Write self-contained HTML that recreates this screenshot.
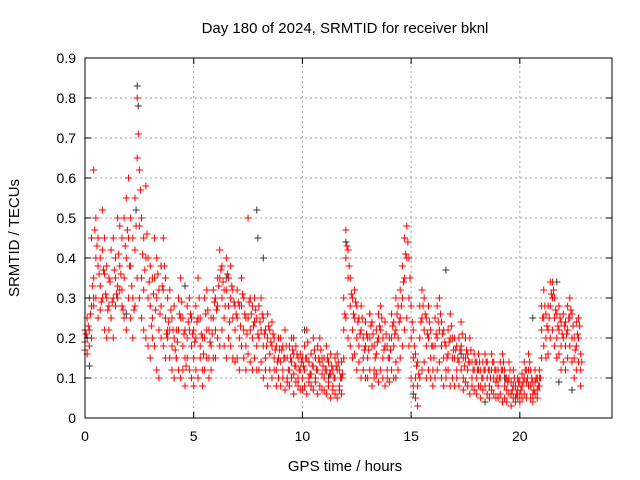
<!DOCTYPE html>
<html><head><meta charset="utf-8"><style>
body{margin:0;background:#fff}
svg{display:block;font-family:"Liberation Sans",sans-serif}
</style></head><body>
<svg id="c" width="640" height="480" viewBox="0 0 640 480">
<rect width="640" height="480" fill="#fff"/>
<text x="345" y="33" text-anchor="middle" font-size="15">Day 180 of 2024, SRMTID for receiver bknl</text>
<text transform="translate(19,238) rotate(-90)" text-anchor="middle" font-size="15">SRMTID / TECUs</text>
<text x="345" y="471" text-anchor="middle" font-size="15">GPS time / hours</text>
<g id="grid"></g>
<g id="marks"></g>
<rect x="85" y="58" width="527" height="360" fill="none" stroke="#000"/>
<g id="ticks"></g>
</svg>
<script>
const xTicks=[0,5,10,15,20];
const yTicks=[0,0.1,0.2,0.3,0.4,0.5,0.6,0.7,0.8,0.9];
const tStep=0.1;
const s1=[.19,.2,.18,.28,.35,.4,.38,.33,.42,.36,.3,.28,.25,.3,.35,.33,.38,.32,.35,.4,.45,.38,.3,.42,.65,.48,.35,.32,.4,.3,.28,.25,.35,.3,.22,.28,.32,.25,.2,.22,.18,.2,.15,.22,.25,.18,.15,.2,.22,.18,.15,.2,.25,.18,.12,.2,.22,.15,.18,.25,.22,.28,.35,.3,.25,.32,.28,.3,.25,.22,.25,.2,.28,.22,.18,.25,.22,.2,.24,.18,.2,.22,.18,.15,.2,.16,.18,.15,.12,.15,.14,.12,.15,.1,.12,.14,.11,.13,.1,.12,.1,.12,.15,.09,.11,.13,.1,.12,.14,.11,.1,.12,.09,.11,.08,.1,.12,.08,.1,.22,.4,.35,.28,.22,.25,.2,.18,.22,.15,.18,.15,.2,.18,.12,.16,.2,.22,.15,.18,.12,.15,.2,.18,.22,.2,.25,.3,.35,.4,.3,.2,.15,.1,.08,.2,.25,.22,.18,.2,.15,.12,.18,.2,.22,.18,.15,.12,.16,.2,.15,.15,.12,.14,.18,.1,.15,.12,.14,.1,.12,.1,.12,.08,.1,.12,.1,.08,.12,.1,.09,.08,.1,.12,.08,.07,.1,.06,.08,.05,.07,.06,.08,.1,.09,.12,.08,.06,.09,.07,.08,.22,.25,.2,.22,.28,.3,.25,.2,.22,.18,.2,.18,.22,.25,.2,.15,.18,.2,.12];
const s2=[.17,.16,.22,.2,.28,.3,.25,.27,.3,.22,.2,.22,.25,.2,.28,.3,.32,.28,.25,.22,.3,.25,.2,.28,.35,.3,.25,.22,.2,.18,.15,.2,.18,.12,.1,.2,.18,.15,.22,.15,.12,.1,.15,.12,.1,.12,.08,.15,.12,.1,.08,.12,.1,.15,.08,.12,.15,.1,.12,.15,.15,.2,.18,.22,.18,.15,.2,.18,.15,.14,.15,.12,.18,.15,.12,.16,.14,.12,.15,.12,.12,.14,.1,.12,.08,.12,.1,.12,.08,.1,.08,.1,.07,.09,.08,.1,.06,.09,.08,.07,.07,.08,.06,.1,.08,.07,.09,.06,.08,.07,.07,.06,.08,.05,.07,.06,.05,.07,.06,.15,.25,.2,.18,.15,.16,.12,.14,.1,.12,.1,.1,.12,.08,.1,.11,.09,.12,.1,.08,.1,.09,.12,.1,.14,.12,.15,.18,.22,.25,.18,.1,.08,.05,.03,.1,.12,.14,.1,.12,.1,.08,.1,.12,.14,.1,.08,.1,.12,.08,.1,.08,.1,.08,.12,.07,.09,.08,.06,.08,.07,.06,.08,.05,.07,.08,.06,.05,.07,.06,.05,.05,.06,.04,.05,.04,.06,.03,.05,.04,.05,.04,.05,.06,.05,.08,.05,.04,.06,.05,.1,.15,.18,.15,.16,.2,.22,.18,.15,.16,.12,.14,.12,.15,.18,.14,.1,.12,.14,.08];
const s3=[.22,.25,.3,.45,.62,.5,.45,.4,.52,.45,.38,.35,.42,.45,.4,.5,.48,.45,.5,.55,.6,.5,.45,.55,.8,.62,.5,.45,.58,.4,.38,.35,.45,.4,.32,.38,.45,.35,.3,.32,.25,.28,.22,.3,.35,.25,.22,.28,.3,.25,.22,.28,.35,.25,.2,.3,.32,.22,.25,.32,.3,.35,.42,.38,.32,.4,.35,.38,.32,.28,.32,.28,.35,.3,.25,.5,.3,.28,.3,.25,.28,.3,.25,.22,.26,.22,.24,.2,.18,.2,.2,.18,.22,.15,.18,.2,.16,.18,.15,.16,.15,.18,.22,.14,.16,.2,.15,.18,.2,.15,.15,.18,.14,.16,.12,.15,.16,.12,.14,.3,.47,.42,.35,.3,.32,.28,.25,.28,.2,.24,.2,.26,.24,.18,.22,.26,.28,.2,.24,.18,.2,.26,.24,.3,.28,.32,.38,.45,.48,.4,.28,.22,.16,.14,.28,.32,.3,.25,.28,.22,.18,.25,.28,.3,.24,.22,.18,.22,.26,.2,.2,.18,.2,.24,.15,.2,.16,.2,.14,.16,.14,.16,.12,.14,.16,.14,.12,.16,.14,.12,.12,.14,.16,.12,.1,.14,.09,.12,.08,.1,.09,.11,.14,.12,.16,.12,.09,.12,.1,.12,.28,.32,.26,.28,.34,.34,.3,.26,.28,.24,.26,.24,.28,.3,.26,.2,.24,.25,.16];
const s4=[.21,.23,.26,.33,.47,.43,.36,.29,.37,.31,.27,.34,.29,.37,.31,.41,.36,.27,.43,.47,.38,.33,.27,.48,.71,.57,.41,.37,.46,.34,.23,.31,.27,.36,.26,.33,.38,.21,.24,.27,.22,.17,.19,.26,.29,.21,.13,.24,.26,.21,.19,.24,.3,.21,.16,.26,.27,.19,.21,.29,.27,.33,.37,.34,.28,.36,.24,.33,.29,.26,.29,.23,.31,.26,.21,.29,.26,.23,.27,.21,.24,.26,.21,.18,.23,.19,.21,.17,.14,.17,.17,.15,.18,.12,.15,.17,.13,.16,.12,.14,.13,.15,.19,.11,.13,.17,.12,.15,.17,.13,.12,.15,.11,.13,.1,.13,.14,.1,.11,.26,.43,.38,.31,.26,.29,.24,.21,.25,.17,.21,.17,.23,.21,.15,.19,.23,.25,.17,.21,.15,.17,.23,.21,.26,.24,.28,.34,.41,.44,.35,.24,.18,.13,.11,.24,.28,.26,.21,.24,.18,.15,.21,.24,.26,.21,.19,.15,.19,.23,.17,.17,.15,.17,.21,.13,.17,.14,.17,.12,.14,.12,.14,.1,.12,.14,.12,.1,.14,.12,.1,.1,.12,.14,.1,.09,.12,.07,.1,.06,.09,.07,.09,.12,.1,.14,.1,.07,.1,.08,.1,.25,.28,.23,.25,.31,.32,.27,.23,.25,.21,.23,.21,.25,.27,.23,.17,.21,.23,.14];
const blackT=[0.2,0.4,1.9,2.35,2.4,2.45,3.5,4.6,6.5,7.9,7.95,8.2,9.6,10.1,11.2,12.0,13.1,14.3,15.1,15.8,16.6,17.3,18.4,19.3,20.6,21.7,21.8,22.4];
const blackV=[0.13,0.3,0.26,0.52,0.83,0.78,0.38,0.33,0.35,0.52,0.45,0.4,0.2,0.22,0.1,0.44,0.26,0.1,0.06,0.28,0.37,0.16,0.04,0.1,0.25,0.34,0.09,0.07];
const X0=85,X1=612,Y0=418,Y1=58,XMAX=24.24,YMAX=0.9;
const xs=v=>X0+v/XMAX*(X1-X0), ys=v=>Y0-v/YMAX*(Y0-Y1);
const NS='http://www.w3.org/2000/svg';
function mk(tag,attrs,parent){const e=document.createElementNS(NS,tag);for(const k in attrs)e.setAttribute(k,attrs[k]);parent.appendChild(e);return e;}
const grid=document.getElementById('grid'),ticks=document.getElementById('ticks'),marks=document.getElementById('marks');
xTicks.forEach(t=>{const x=xs(t);
 if(t>0){const g=mk('line',{x1:x,x2:x,y1:Y0,y2:Y1,stroke:'#a0a0a0','stroke-dasharray':'2,3'},grid);}
 mk('line',{x1:x,x2:x,y1:Y0,y2:Y0-6,stroke:'#000'},ticks);mk('line',{x1:x,x2:x,y1:Y1,y2:Y1+6,stroke:'#000'},ticks);
 const l=mk('text',{x:x,y:Y0+23,'text-anchor':'middle','font-size':14},ticks);l.textContent=t;
 
 });
yTicks.forEach(t=>{const y=ys(t);
 if(t>0&&t<0.9){const g=mk('line',{x1:X0,x2:X1,y1:y,y2:y,stroke:'#a0a0a0','stroke-dasharray':'2,3'},grid);}
 mk('line',{x1:X0,x2:X0+6,y1:y,y2:y,stroke:'#000'},ticks);mk('line',{x1:X1,x2:X1-6,y1:y,y2:y,stroke:'#000'},ticks);
 const l=mk('text',{x:X0-9,y:y+5,'text-anchor':'end','font-size':14},ticks);l.textContent=t===0?'0':t.toFixed(1);
 
 });
function plus(t,v,col){const x=xs(t),y=ys(v);
 const p=mk('path',{d:`M${x-3.5},${y}h7M${x},${y-3.5}v7`,stroke:col,'stroke-width':1,fill:'none'},marks);
 
 }
blackT.forEach((t,i)=>plus(t,blackV[i],'#333'));
[s2,s1,s3].forEach(s=>s.forEach((v,i)=>plus(i*tStep,v,'#ff0000')));
s4.forEach((v,i)=>plus(i*tStep+0.05,v,'#ff0000'));
</script>
</body></html>
